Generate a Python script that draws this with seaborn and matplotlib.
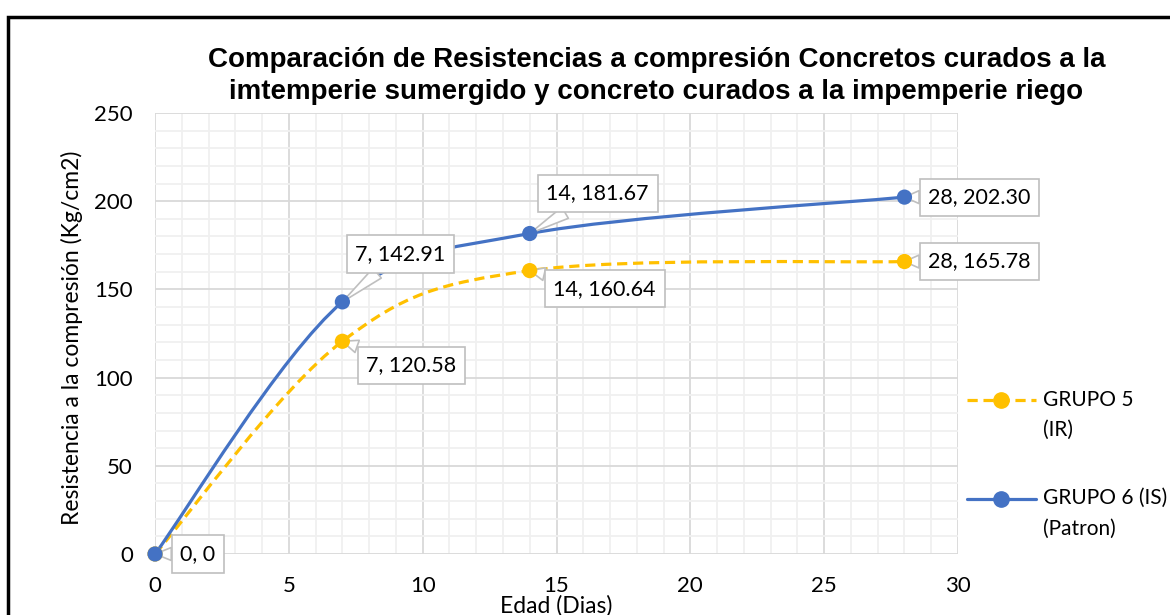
import matplotlib
matplotlib.use("Agg")
import matplotlib.pyplot as plt
import seaborn as sns
import pandas as pd
from matplotlib.path import Path
from matplotlib.patches import PathPatch, Rectangle
from matplotlib.lines import Line2D
from matplotlib.ticker import MultipleLocator

# data
dias = [0, 7, 14, 28]
grupo5 = [0, 120.58, 160.64, 165.78]
grupo6 = [0, 142.91, 181.67, 202.30]
etiquetas5 = ["7, 120.58", "14, 160.64", "28, 165.78"]
etiquetas6 = ["0, 0", "7, 142.91", "14, 181.67", "28, 202.30"]

titulo = ("Comparación de Resistencias a compresión Concretos curados a la\n"
          "imtemperie sumergido y concreto curados a la impemperie riego")

azul = "#4472C4"
amarillo = "#FFC000"
guiones = (0, (3.2, 1.8))

sns.set_style("white")
plt.rcParams["font.family"] = ["Lato", "DejaVu Sans"]
plt.rcParams["text.color"] = "black"
plt.rcParams["axes.labelcolor"] = "black"
plt.rcParams["xtick.color"] = "black"
plt.rcParams["ytick.color"] = "black"

df = pd.DataFrame({"dias": dias * 2,
                   "valor": grupo5 + grupo6,
                   "grupo": ["GRUPO 5 (IR)"] * 4 + ["GRUPO 6 (IS)"] * 4})

fig = plt.figure(figsize=(11.7, 6.15), dpi=100)
ax = fig.add_axes([0.1325, 0.0992, 0.6863, 0.7171])


def smooth_path(xs, ys):
    # excel-like smoothed line: cubic bezier through the points
    pts = list(zip(xs, ys))
    n = len(pts)
    verts = [pts[0]]
    codes = [Path.MOVETO]
    for i in range(n - 1):
        p0 = pts[i - 1] if i > 0 else pts[i]
        p1 = pts[i]
        p2 = pts[i + 1]
        p3 = pts[i + 2] if i + 2 < n else pts[i + 1]
        c1 = (p1[0] + (p2[0] - p0[0]) / 6, p1[1] + (p2[1] - p0[1]) / 6)
        c2 = (p2[0] - (p3[0] - p1[0]) / 6, p2[1] - (p3[1] - p1[1]) / 6)
        verts += [c1, c2, p2]
        codes += [Path.CURVE4] * 3
    return Path(verts, codes)


ax.add_patch(PathPatch(smooth_path(dias, grupo5), fill=False, edgecolor=amarillo,
                       lw=2.3, linestyle=guiones, zorder=3))
ax.add_patch(PathPatch(smooth_path(dias, grupo6), fill=False, edgecolor=azul,
                       lw=2.3, zorder=3))

sns.scatterplot(data=df, x="dias", y="valor", hue="grupo",
                palette=[amarillo, azul], s=120, edgecolor="none",
                legend=False, ax=ax, zorder=6, clip_on=False)

ax.set_xlim(0, 30)
ax.set_ylim(0, 250)
ax.xaxis.set_major_locator(MultipleLocator(5))
ax.xaxis.set_minor_locator(MultipleLocator(1))
ax.yaxis.set_major_locator(MultipleLocator(50))
ax.yaxis.set_minor_locator(MultipleLocator(10))
ax.grid(which="major", color="#D9D9D9", lw=1.3, zorder=1)
ax.grid(which="minor", color="#F0F0F0", lw=1.3, zorder=0)
ax.set_axisbelow(True)
for s in ax.spines.values():
    s.set_visible(False)
ax.tick_params(which="both", length=0, labelsize=16, pad=16)
ax.set_xlabel("Edad (Dias)", fontsize=16.5)
ax.set_ylabel("Resistencia a la compresión (Kg/cm2)", fontsize=16.5)
ax.xaxis.set_label_coords(0.5, -0.093)
ax.yaxis.set_label_coords(-0.09, 0.49)

fig.text(0.561, 0.876, titulo, ha="center", va="center", fontsize=20,
         fontweight="bold", family="Liberation Sans", linespacing=1.28)

caja = dict(boxstyle="square,pad=0.4", fc="white", ec="#BFBFBF", lw=1.2)
flecha = dict(arrowstyle="wedge,tail_width=0.6,shrink_factor=0.5",
              fc="white", ec="#BFBFBF", lw=1.2, shrinkA=0, shrinkB=0)

offs6 = [(43, 0), (58, 48), (68, 40), (75, 0)]
offs5 = [(69, -24), (75, -18), (75, 0)]
for x, y, t, o in zip(dias, grupo6, etiquetas6, offs6):
    ax.annotate(t, (x, y), xytext=o, textcoords="offset pixels", ha="center",
                va="center", fontsize=15.5, bbox=caja, arrowprops=flecha,
                zorder=5, annotation_clip=False)
for x, y, t, o in zip(dias[1:], grupo5[1:], etiquetas5, offs5):
    ax.annotate(t, (x, y), xytext=o, textcoords="offset pixels", ha="center",
                va="center", fontsize=15.5, bbox=caja, arrowprops=flecha,
                zorder=5)

handles = [Line2D([], [], color=amarillo, lw=2.3, linestyle=guiones,
                  marker="o", markersize=11),
           Line2D([], [], color=azul, lw=2.3, marker="o", markersize=11)]
leg = fig.legend(handles, [" \nGRUPO 5\n(IR)", " \nGRUPO 6 (IS)\n(Patron)"],
                 loc="upper left", bbox_to_anchor=(967 / 1170, 0.416),
                 frameon=False, fontsize=15, handlelength=3.3,
                 labelspacing=0.85, handletextpad=0.35, borderpad=0,
                 borderaxespad=0)
for t in leg.get_texts():
    t.set_linespacing(1.65)

fig.patches.append(Rectangle((8 / 1170, -0.05), 1.1, 1 - 17 / 615 + 0.05,
                             transform=fig.transFigure, fill=False,
                             ec="black", lw=2.5))

fig.savefig("out.png", dpi=100)
